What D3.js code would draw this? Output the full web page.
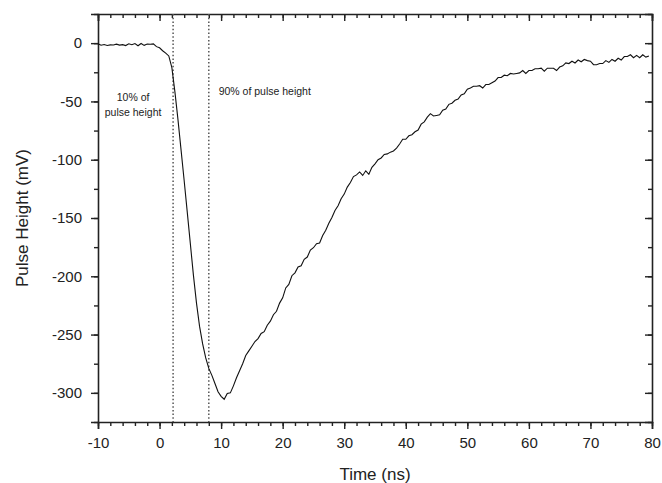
<!DOCTYPE html>
<html>
<head>
<meta charset="utf-8">
<script src="https://cdn.jsdelivr.net/npm/d3@7"></script>
<style>
  body { margin: 0; background: #fff; }
  text { font-family: "Liberation Sans", Arial, sans-serif; fill: #222; }
</style>
</head>
<body>
<script>
// pulse trace, [time ns, height mV]
const trace = [
  [-10, -0.5], [-9.5, -1.8], [-9, -1.2], [-8.5, -2.0], [-8, -1.5], [-7.5, -1.6],
  [-7, -0.9], [-6.5, -1.7], [-6, -1.3], [-5.5, -2.1], [-5, -0.6], [-4.5, -1.4],
  [-4, -0.4], [-3.5, -2.2], [-3, -0.3], [-2.5, -1.9], [-2, -0.8], [-1.5, -1.0],
  [-1, -0.6], [-0.5, -3.0], [0, -4.0], [0.5, -6.5], [1, -8.5], [1.5, -11],
  [2, -21], [2.5, -42], [3, -66], [3.5, -92], [4, -118], [4.5, -145],
  [5, -172], [5.5, -199], [6, -223], [6.5, -243], [7, -258], [7.5, -270],
  [8, -279], [8.5, -285], [9, -292], [9.5, -299], [10, -303], [10.5, -305.5],
  [11, -300.5], [11.5, -300], [12, -294], [12.5, -287], [13, -281], [13.5, -275],
  [14, -268], [14.5, -264], [15, -260], [15.5, -256], [16, -253.5], [16.5, -249],
  [17, -247.5], [17.5, -242], [18, -238.5], [18.5, -233], [19, -230], [19.5, -223],
  [20, -218.5], [20.5, -210], [21, -207], [21.5, -199.5], [22, -197], [22.5, -192],
  [23, -191], [23.5, -185.5], [24, -183.5], [24.5, -177.5], [25, -175.5], [25.5, -172],
  [26, -171.5], [26.5, -165], [27, -160.5], [27.5, -154.5], [28, -149.5], [28.5, -143.5],
  [29, -139.5], [29.5, -133.5], [30, -129.5], [30.5, -123.5], [31, -119.5], [31.5, -114.5],
  [32, -113], [32.5, -110.5], [33, -113.5], [33.5, -109.5], [34, -112.5], [34.5, -106.5],
  [35, -103.5], [35.5, -100], [36, -98.5], [36.5, -95.5], [37, -95], [37.5, -93.5],
  [38, -92.5], [38.5, -90], [39, -86.5], [39.5, -82.5], [40, -82.5], [40.5, -79.5],
  [41, -78.5], [41.5, -76], [42, -74.5], [42.5, -69.5], [43, -67.5], [43.5, -63.5],
  [44, -60.5], [44.5, -62.5], [45, -62], [45.5, -61.5], [46, -57.5], [46.5, -56.5],
  [47, -52.5], [47.5, -51.5], [48, -49], [48.5, -48], [49, -44.5], [49.5, -43.5],
  [50, -39.5], [50.5, -38.5], [51, -37], [51.5, -37], [52, -36.5], [52.5, -38.5],
  [53, -35.5], [53.5, -35.5], [54, -34], [54.5, -32.5], [55, -29.5], [55.5, -29.5],
  [56, -27.5], [56.5, -28], [57, -26], [57.5, -26.5], [58, -26], [58.5, -25.5],
  [59, -23.5], [59.5, -26], [60, -23.5], [60.5, -23.5], [61, -22], [61.5, -22],
  [62, -21.5], [62.5, -24], [63, -21.5], [63.5, -21.5], [64, -21.5], [64.5, -23.5],
  [65, -20.5], [65.5, -19.5], [66, -17], [66.5, -17.5], [67, -15.5], [67.5, -17],
  [68, -14.5], [68.5, -16], [69, -14], [69.5, -15], [70, -15.5], [70.5, -18.5],
  [71, -18.5], [71.5, -17.5], [72, -17.5], [72.5, -15], [73, -16.5], [73.5, -14],
  [74, -15.5], [74.5, -13], [75, -14.5], [75.5, -11.5], [76, -11.5], [76.5, -10],
  [77, -12.5], [77.5, -10.5], [78, -12.5], [78.5, -10], [79, -12], [79.5, -11]
];

// 10% and 90% markers (ns)
const markers = [2.2, 8.0];

const xTicks = [-10, 0, 10, 20, 30, 40, 50, 60, 70, 80];
const yTicks = [0, -50, -100, -150, -200, -250, -300];

const width = 662, height = 483;
const margin = { top: 14, right: 10, bottom: 61, left: 98 };

const svg = d3.select('body').append('svg')
  .attr('width', width)
  .attr('height', height);

const x = d3.scaleLinear()
  .domain([-10, 80])
  .range([margin.left, width - margin.right]);

const y = d3.scaleLinear()
  .domain([-325, 25])
  .range([height - margin.bottom, margin.top]);

const minorX = d3.range(-10, 80.1, 2);
const minorY = d3.range(-325, 25.1, 25);

// plain hyphen for negatives, like the original
const plain = d => String(d);

// bottom axis, ticks out
svg.append('g')
  .attr('transform', `translate(0,${y(-325)})`)
  .call(d3.axisBottom(x).tickValues(minorX).tickSize(4).tickFormat(''))
  .call(g => g.selectAll('.domain').remove());
svg.append('g')
  .attr('transform', `translate(0,${y(-325)})`)
  .call(d3.axisBottom(x).tickValues(xTicks).tickSize(7).tickPadding(8).tickFormat(plain));

// left axis, ticks out
svg.append('g')
  .attr('transform', `translate(${x(-10)},0)`)
  .call(d3.axisLeft(y).tickValues(minorY).tickSize(4).tickFormat(''))
  .call(g => g.selectAll('.domain').remove());
svg.append('g')
  .attr('transform', `translate(${x(-10)},0)`)
  .call(d3.axisLeft(y).tickValues(yTicks).tickSize(7).tickPadding(9).tickFormat(plain));

// top axis, ticks in
svg.append('g')
  .attr('transform', `translate(0,${y(25)})`)
  .call(d3.axisBottom(x).tickValues(minorX).tickSize(4).tickFormat(''))
  .call(g => g.selectAll('.domain').remove());
svg.append('g')
  .attr('transform', `translate(0,${y(25)})`)
  .call(d3.axisBottom(x).tickValues(xTicks).tickSize(7).tickFormat(''));

// right axis, ticks in
svg.append('g')
  .attr('transform', `translate(${x(80)},0)`)
  .call(d3.axisLeft(y).tickValues(minorY).tickSize(4).tickFormat(''))
  .call(g => g.selectAll('.domain').remove());
svg.append('g')
  .attr('transform', `translate(${x(80)},0)`)
  .call(d3.axisLeft(y).tickValues(yTicks).tickSize(7).tickFormat(''));

svg.selectAll('.domain').attr('stroke', '#222').attr('stroke-width', 1.6);
svg.selectAll('.tick line').attr('stroke', '#222').attr('stroke-width', 1.4);
svg.selectAll('.tick text')
  .attr('fill', '#222')
  .style('font-family', '"Liberation Sans", Arial, sans-serif')
  .style('font-size', '15px');

// dotted markers
svg.selectAll('.marker')
  .data(markers)
  .enter()
  .append('line')
  .attr('class', 'marker')
  .attr('x1', d => x(d))
  .attr('x2', d => x(d))
  .attr('y1', y(25))
  .attr('y2', y(-325))
  .attr('stroke', '#555')
  .attr('stroke-width', 1.5)
  .attr('stroke-dasharray', '1.5,2.2');

// the pulse
const line = d3.line()
  .x(d => x(d[0]))
  .y(d => y(d[1]));

svg.append('path')
  .datum(trace)
  .attr('d', line)
  .attr('fill', 'none')
  .attr('stroke', '#111')
  .attr('stroke-width', 1.1);

// notes
const note10 = svg.append('text')
  .attr('x', x(-4.3))
  .attr('text-anchor', 'middle')
  .style('font-size', '10.5px');
note10.append('tspan').attr('x', x(-4.3)).attr('y', 101).text('10% of');
note10.append('tspan').attr('x', x(-4.3)).attr('y', 116).text('pulse height');

svg.append('text')
  .attr('x', x(9.6))
  .attr('y', 95)
  .style('font-size', '10.5px')
  .text('90% of pulse height');

// axis titles
svg.append('text')
  .attr('x', x(35))
  .attr('y', 480)
  .attr('text-anchor', 'middle')
  .style('font-size', '17px')
  .text('Time (ns)');

svg.append('text')
  .attr('transform', `translate(28,${y(-150)}) rotate(-90)`)
  .attr('text-anchor', 'middle')
  .style('font-size', '17px')
  .text('Pulse Height (mV)');
</script>
</body>
</html>
